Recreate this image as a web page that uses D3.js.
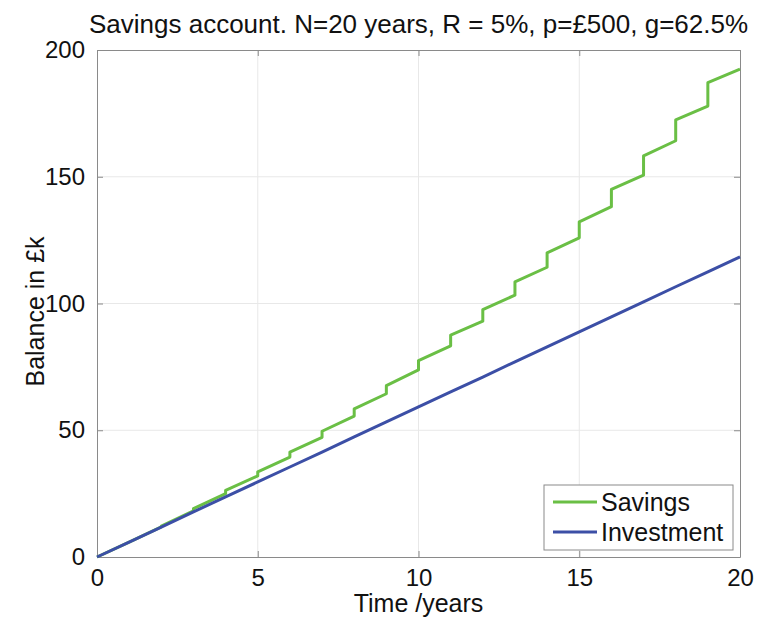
<!DOCTYPE html>
<html>
<head>
<meta charset="utf-8">
<script src="https://cdn.jsdelivr.net/npm/d3@7"></script>
<style>
  body { margin: 0; background: #fff; }
  text { font-family: "Liberation Sans", Arial, sans-serif; fill: #111; }
</style>
</head>
<body>
<div id="chart"></div>
<script>
// years 0..20
var years = [0, 1, 2, 3, 4, 5, 6, 7, 8, 9, 10, 11, 12, 13, 14, 15, 16, 17, 18, 19, 20];
// investment balance (£k), straight line
var investment = [0, 5.9, 11.8, 17.8, 23.7, 29.6, 35.5, 41.4, 47.4, 53.3, 59.2, 65.1, 71.0, 77.0, 82.9, 88.8, 94.7, 100.6, 106.6, 112.5, 118.4];
// savings balance just before / just after the yearly interest step (years 0..19)
var savingsBefore = [0, 5.9, 11.9, 18.2, 25.0, 32.0, 39.4, 47.2, 55.6, 64.4, 73.8, 83.3, 93.0, 103.3, 114.3, 125.9, 138.2, 150.6, 164.2, 177.9];
var savingsAfter = [0, 5.9, 12.2, 19.1, 26.3, 33.6, 41.4, 49.6, 58.4, 67.6, 77.5, 87.5, 97.6, 108.5, 120.0, 132.2, 145.0, 158.2, 172.4, 187.1];
var savingsEnd = 192.5;

var xTicks = [0, 5, 10, 15, 20];
var yTicks = [0, 50, 100, 150, 200];
var seriesNames = ["Savings", "Investment"];
var seriesColors = ["#6abf45", "#3c4fa6"];

var width = 768, height = 617;
var margin = {left: 97, right: 28, top: 50, bottom: 60};

var svg = d3.select('#chart').append('svg')
  .attr('width', width)
  .attr('height', height);

var x = d3.scaleLinear().domain([0, 20]).range([margin.left, width - margin.right]);
var y = d3.scaleLinear().domain([0, 200]).range([height - margin.bottom, margin.top]);

// grid
svg.append('g').selectAll('line.gx').data(xTicks.slice(1, -1)).enter().append('line')
  .attr('x1', function(d) { return x(d); })
  .attr('x2', function(d) { return x(d); })
  .attr('y1', y(0)).attr('y2', y(200))
  .attr('stroke', '#e8e8e8').attr('stroke-width', 1);
svg.append('g').selectAll('line.gy').data(yTicks.slice(1, -1)).enter().append('line')
  .attr('y1', function(d) { return y(d); })
  .attr('y2', function(d) { return y(d); })
  .attr('x1', x(0)).attr('x2', x(20))
  .attr('stroke', '#e8e8e8').attr('stroke-width', 1);

// axes, ticks inward on all sides
var tickStyle = function(g) {
  g.select('.domain').attr('stroke', '#8a8a8a');
  g.selectAll('.tick line').attr('stroke', '#8a8a8a');
  g.selectAll('.tick text').style('font-size', '24px').attr('fill', '#111');
};
svg.append('g').attr('transform', 'translate(0,' + y(0) + ')')
  .call(d3.axisBottom(x).tickValues(xTicks).tickSizeInner(-6).tickSizeOuter(0).tickPadding(12))
  .call(tickStyle);
svg.append('g').attr('transform', 'translate(0,' + y(200) + ')')
  .call(d3.axisTop(x).tickValues(xTicks).tickSizeInner(-6).tickSizeOuter(0).tickFormat(''))
  .call(tickStyle);
svg.append('g').attr('transform', 'translate(' + x(0) + ',0)')
  .call(d3.axisLeft(y).tickValues(yTicks).tickSizeInner(-6).tickSizeOuter(0).tickPadding(12))
  .call(tickStyle);
svg.append('g').attr('transform', 'translate(' + x(20) + ',0)')
  .call(d3.axisRight(y).tickValues(yTicks).tickSizeInner(-6).tickSizeOuter(0).tickFormat(''))
  .call(tickStyle);

// build savings step path from the arrays
var savingsPts = [];
savingsBefore.forEach(function(v, i) {
  savingsPts.push([years[i], v]);
  savingsPts.push([years[i], savingsAfter[i]]);
});
savingsPts.push([years[20], savingsEnd]);
var investPts = years.map(function(t, i) { return [t, investment[i]]; });

var line = d3.line()
  .x(function(d) { return x(d[0]); })
  .y(function(d) { return y(d[1]); });

svg.append('path').datum(savingsPts)
  .attr('d', line)
  .attr('fill', 'none')
  .attr('stroke', seriesColors[0])
  .attr('stroke-width', 3)
  .attr('stroke-linejoin', 'round');
svg.append('path').datum(investPts)
  .attr('d', line)
  .attr('fill', 'none')
  .attr('stroke', seriesColors[1])
  .attr('stroke-width', 3);

// title and labels
svg.append('text')
  .attr('x', (x(0) + x(20)) / 2)
  .attr('y', 33)
  .attr('text-anchor', 'middle')
  .style('font-size', '26px')
  .text('Savings account. N=20 years, R = 5%, p=£500, g=62.5%');
svg.append('text')
  .attr('x', (x(0) + x(20)) / 2)
  .attr('y', 612)
  .attr('text-anchor', 'middle')
  .style('font-size', '25px')
  .text('Time /years');
svg.append('text')
  .attr('transform', 'translate(44,' + (y(100) + 8) + ') rotate(-90)')
  .attr('text-anchor', 'middle')
  .style('font-size', '25px')
  .text('Balance in £k');

// legend
var legend = svg.append('g').attr('transform', 'translate(544,485)');
legend.append('rect')
  .attr('width', 189).attr('height', 65)
  .attr('fill', '#fff').attr('stroke', '#8a8a8a');
var items = legend.selectAll('g.item').data(seriesNames).enter().append('g')
  .attr('transform', function(d, i) { return 'translate(0,' + (17 + i * 30) + ')'; });
items.append('line')
  .attr('x1', 9).attr('x2', 53)
  .attr('stroke', function(d, i) { return seriesColors[i]; })
  .attr('stroke-width', 3);
items.append('text')
  .attr('x', 57).attr('y', 9)
  .style('font-size', '25px')
  .text(function(d) { return d; });
</script>
</body>
</html>
